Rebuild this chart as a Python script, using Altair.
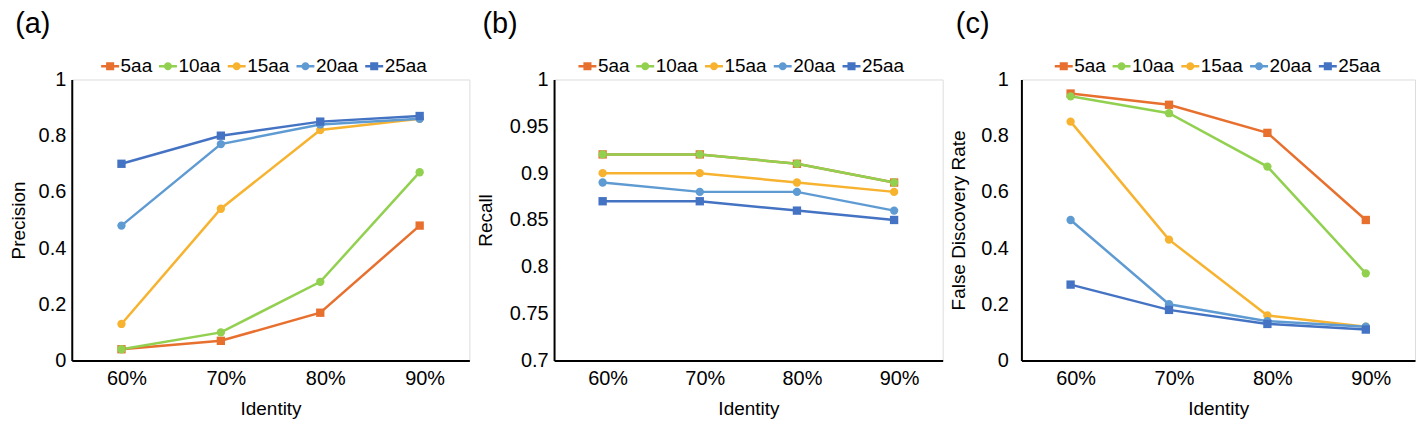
import altair as alt
import pandas as pd

categories = ["60%", "70%", "80%", "90%"]
series = ["5aa", "10aa", "15aa", "20aa", "25aa"]
colors = ["#E8702F", "#92D050", "#F7B32F", "#5F9BD3", "#4573C3"]
markers = ["square", "circle", "circle", "circle", "square"]

precision = {
    "5aa": [0.04, 0.07, 0.17, 0.48],
    "10aa": [0.04, 0.10, 0.28, 0.67],
    "15aa": [0.13, 0.54, 0.82, 0.86],
    "20aa": [0.48, 0.77, 0.84, 0.86],
    "25aa": [0.70, 0.80, 0.85, 0.87],
}
recall = {
    "5aa": [0.92, 0.92, 0.91, 0.89],
    "10aa": [0.92, 0.92, 0.91, 0.89],
    "15aa": [0.90, 0.90, 0.89, 0.88],
    "20aa": [0.89, 0.88, 0.88, 0.86],
    "25aa": [0.87, 0.87, 0.86, 0.85],
}
fdr = {
    "5aa": [0.95, 0.91, 0.81, 0.50],
    "10aa": [0.94, 0.88, 0.69, 0.31],
    "15aa": [0.85, 0.43, 0.16, 0.12],
    "20aa": [0.50, 0.20, 0.14, 0.12],
    "25aa": [0.27, 0.18, 0.13, 0.11],
}

FONT = "Liberation Sans"

SQUARE_LEG = ("M-1,-0.14L-0.45,-0.14L-0.45,-0.45L0.45,-0.45L0.45,-0.14L1,-0.14"
              "L1,0.14L0.45,0.14L0.45,0.45L-0.45,0.45L-0.45,0.14L-1,0.14Z")
CIRCLE_LEG = ("M-1,-0.14L1,-0.14L1,0.14L-1,0.14Z"
              "M-0.45,0A0.45,0.45 0 1,1 0.45,0A0.45,0.45 0 1,1 -0.45,0Z")
leg_paths = [SQUARE_LEG if m == "square" else CIRCLE_LEG for m in markers]


def to_df(values):
    rows = []
    for s, m in zip(series, markers):
        for c, v in zip(categories, values[s]):
            rows.append({"series": s, "cat": c, "value": v, "shp": m})
    return pd.DataFrame(rows)


def panel(values, ytitle, domain, ticks, label, width, tpad, lpad, legx):
    df = to_df(values)
    color_scale = alt.Scale(domain=series, range=colors)
    x = alt.X("cat:N", sort=categories,
              scale=alt.Scale(type="point", domain=categories, padding=0.5),
              axis=alt.Axis(title="Identity", labelAngle=0, ticks=False, tickSize=0,
                            grid=False, domainColor="black", domainWidth=2,
                            labelFontSize=20, titleFontSize=19, labelPadding=8,
                            titlePadding=11, labelOffset=5, labelColor="black",
                            titleColor="black", titleFontWeight="normal",
                            labelFont=FONT, titleFont=FONT))
    y = alt.Y("value:Q",
              scale=alt.Scale(domain=domain, nice=False, zero=False),
              axis=alt.Axis(title=ytitle, values=ticks, format="~g", ticks=False,
                            tickSize=0, grid=False, domainColor="black", domainWidth=2,
                            labelFontSize=20, titleFontSize=19, labelPadding=lpad,
                            titlePadding=tpad, labelColor="black", titleColor="black",
                            titleFontWeight="normal", labelFont=FONT, titleFont=FONT))
    color_plain = alt.Color("series:N", scale=color_scale)
    base = alt.Chart(df)
    lines = base.mark_line(strokeWidth=2.5).encode(
        x=x, y=y, color=color_plain, detail="series:N")
    sq_first = base.transform_filter(alt.datum.series == series[0]).mark_square(
        size=70, opacity=1).encode(x=x, y=y, color=color_plain)
    circ = base.transform_filter(alt.datum.shp == "circle").mark_circle(
        size=70, opacity=1).encode(x=x, y=y, color=color_plain)
    sq_last = base.transform_filter(alt.datum.series == series[-1]).mark_square(
        size=70, opacity=1).encode(x=x, y=y, color=color_plain)
    leg = alt.Legend(title=None, orient="none", legendX=legx, legendY=-23,
                     direction="horizontal", labelFontSize=19, labelFont=FONT,
                     labelColor="black", symbolSize=324, symbolStrokeWidth=0,
                     labelOffset=1, columnPadding=6, symbolOpacity=1)
    legend_layer = base.transform_filter("datum.value < -100").mark_point(
        filled=True).encode(
        x=x, y=y,
        color=alt.Color("series:N", scale=color_scale, legend=leg),
        shape=alt.Shape("series:N", scale=alt.Scale(domain=series, range=leg_paths),
                        legend=leg))
    return alt.layer(legend_layer, lines, sq_first, circ, sq_last).properties(
        width=width, height=282,
        title=alt.TitleParams(text=label, anchor="start", frame="bounds",
                              fontSize=29, font=FONT, fontWeight="normal",
                              color="black", offset=18, dx=6))


a = panel(precision, "Precision", [0, 1], [0, 0.2, 0.4, 0.6, 0.8, 1], "(a)", 399, 10, 6, 29)
b = panel(recall, "Recall", [0.7, 1], [0.7, 0.75, 0.8, 0.85, 0.9, 0.95, 1], "(b)", 390, 14, 6, 24)
c = panel(fdr, "False Discovery Rate", [0, 1], [0, 0.2, 0.4, 0.6, 0.8, 1], "(c)", 395, 12, 13, 33)

chart = (
    alt.hconcat(a, b, c, spacing=5, padding=0)
    .resolve_scale(color="independent", shape="independent")
    .resolve_legend(color="independent", shape="independent")
    .configure_view(stroke=None)
    .configure(font=FONT)
)

chart.save("out.html", embed_options={"renderer": "svg", "actions": False})
